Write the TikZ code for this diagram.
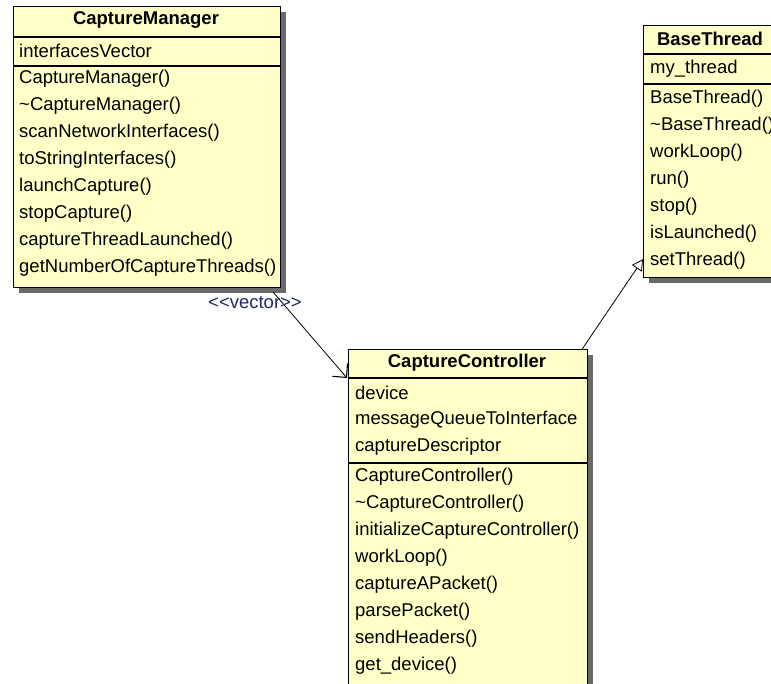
\documentclass[tikz,border=0pt]{standalone}
\usepackage{fontspec}
\setmainfont{Liberation Sans}
\usetikzlibrary{positioning, shadows, arrows.meta}
\definecolor{umlfill}{RGB}{255,255,200}
\definecolor{umlshadow}{RGB}{105,105,105}
\definecolor{stereo}{RGB}{35,40,95}

\tikzset{
  classbox/.style={draw, line width=1.2pt, fill=umlfill, anchor=north west,
    drop shadow={shadow xshift=5pt, shadow yshift=-5pt, fill=umlshadow, opacity=1}},
  classname/.style={inner sep=0pt, font=\fontsize{18.5}{21}\selectfont\bfseries},
  member/.style={inner sep=0pt, anchor=west},
  sepline/.style={line width=1.2pt},
  assoc/.style={line width=0.8pt, -{Straight Barb[length=10pt, width=20pt, line width=1.1pt]}},
  inherit/.style={line width=0.8pt, -{Triangle[open, length=11pt, width=12pt]}}
}

\begin{document}
\begin{tikzpicture}[x=1pt, y=-1pt, font=\fontsize{18.5}{21}\selectfont]
  \useasboundingbox (0,0) rectangle (771,683);
  \clip (0,0) rectangle (771,683);

  % CaptureManager
  \node[classbox, minimum width=267, minimum height=281] (manager) at (13,6) {};
  \node[classname] (manager-name) at (146,20) {CaptureManager};
  \draw[sepline] (manager.west |- 0,37) -- (manager.east |- 0,37);
  \node[member] (manager-attr) at (19,51) {interfacesVector};
  \draw[sepline] (manager.west |- 0,66) -- (manager.east |- 0,66);
  \foreach \m [count=\i] in {CaptureManager(), \textasciitilde CaptureManager(),
      scanNetworkInterfaces(), toStringInterfaces(), launchCapture(),
      stopCapture(), captureThreadLaunched(), getNumberOfCaptureThreads()}
    \node[member] (manager-op\i) at (19,52+27*\i) {\m};

  % BaseThread
  \node[classbox, minimum width=133, minimum height=252] (thread) at (643,25) {};
  \node[classname] (thread-name) at (710,39) {BaseThread};
  \draw[sepline] (thread.west |- 0,54) -- (thread.east |- 0,54);
  \node[member] (thread-attr) at (650,69) {my\_thread};
  \draw[sepline] (thread.west |- 0,84) -- (thread.east |- 0,84);
  \foreach \m [count=\i] in {BaseThread(), \textasciitilde BaseThread(),
      workLoop(), run(), stop(), isLaunched(), setThread()}
    \node[member] (thread-op\i) at (650,72+27*\i) {\m};

  % CaptureController
  \node[classbox, minimum width=239, minimum height=340] (controller) at (348,349) {};
  \node[classname] (controller-name) at (467,363) {CaptureController};
  \draw[sepline] (controller.west |- 0,378) -- (controller.east |- 0,378);
  \foreach \a [count=\i] in {device, messageQueueToInterface, captureDescriptor}
    \node[member] (controller-attr\i) at (355,366+27*\i) {\a};
  \draw[sepline] (controller.west |- 0,463) -- (controller.east |- 0,463);
  \foreach \m [count=\i] in {CaptureController(), \textasciitilde CaptureController(),
      initializeCaptureController(), workLoop(), captureAPacket(),
      parsePacket(), sendHeaders(), get\_device()}
    \node[member] (controller-op\i) at (355,450+27*\i) {\m};

  % relations
  \coordinate (controller-head) at (347,378);
  \draw[assoc] ([xshift=-8pt,yshift=-4pt]manager.south east) -- (controller-head);
  \node[text=stereo] (vector-label) at (255,303) {<\kern0pt<vector>\kern0pt>};
  \draw[inherit] ([xshift=-6pt]controller.north east) -- ([yshift=19pt]thread.south west);
\end{tikzpicture}
\end{document}
